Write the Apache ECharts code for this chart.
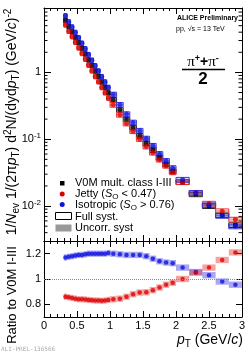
<!DOCTYPE html>
<html><head><meta charset="utf-8">
<script src="https://cdn.jsdelivr.net/npm/echarts@6.0.0/dist/echarts.min.js"></script>
<style>html,body{margin:0;padding:0;background:#fff;overflow:hidden}#c{width:249px;height:353px}</style>
</head><body><div id="c"></div>
<script>
// ---- data ----
const ptCenters = [0.325,0.375,0.425,0.475,0.525,0.575,0.625,0.675,0.725,0.775,0.825,0.875,0.925,0.975,
  1.05,1.15,1.25,1.35,1.45,1.55,1.65,1.75,1.85,1.95,2.1,2.3,2.5,2.7,2.9];
const binHalfWidths = [0.025,0.025,0.025,0.025,0.025,0.025,0.025,0.025,0.025,0.025,0.025,0.025,0.025,0.025,
  0.05,0.05,0.05,0.05,0.05,0.05,0.05,0.05,0.05,0.05,0.1,0.1,0.1,0.1,0.1];
const v0mYield = [6.0,4.85,4.05,3.35,2.78,2.3,1.89,1.54,1.27,1.05,0.875,0.72,0.6,0.495,
  0.39,0.275,0.2,0.15,0.113,0.087,0.069,0.053,0.042,0.033,0.0228,0.015,0.01,0.0073,0.0052];
const jettyYield = [5.16,4.147,3.443,2.831,2.335,1.932,1.584,1.286,1.058,0.8715,0.7263,0.5962,0.498,0.4133,
  0.3276,0.2324,0.172,0.132,0.1009,0.07787,0.06293,0.04945,0.04011,0.03201,0.0228,0.01575,0.0109,0.008395,0.006292];
const isoYield = [7.02,5.699,4.779,3.970,3.308,2.737,2.259,1.848,1.524,1.26,1.05,0.864,0.72,0.5965,
  0.468,0.3286,0.238,0.1785,0.1345,0.1027,0.08004,0.06042,0.04746,0.03713,0.02485,0.01583,0.0103,0.007154,0.004966];
const jettyRatio = [0.86,0.855,0.85,0.845,0.84,0.84,0.838,0.835,0.833,0.83,0.83,0.828,0.83,0.835,
  0.84,0.845,0.86,0.88,0.893,0.895,0.912,0.933,0.955,0.97,1.0,1.05,1.09,1.15,1.21];
const isoRatio = [1.17,1.175,1.18,1.185,1.19,1.19,1.195,1.2,1.2,1.2,1.2,1.2,1.2,1.205,
  1.2,1.195,1.19,1.19,1.19,1.18,1.16,1.14,1.13,1.125,1.09,1.055,1.03,0.98,0.955];
const fullSystRel = 0.08;     // open boxes, spectra
const uncorrSystRel = 0.04;   // filled boxes, spectra
const ratioUncorr = 0.025;    // filled boxes, ratios
const logMinorTicks = [0.004,0.005,0.006,0.007,0.008,0.009,0.02,0.03,0.04,0.05,0.06,0.07,0.08,0.09,
  0.2,0.3,0.4,0.5,0.6,0.7,0.8,0.9,2,3,4,5,6,7,8,9];

const FONT = 'Liberation Sans';
const C_BLACK = '#000000', C_RED = '#dd0000', C_BLUE = '#1010dd';

const chart = echarts.init(document.getElementById('c'), null, {renderer:'canvas'});

function relBox(xs, hws, ys, rel, style, xi, yi) {
  return {type:'custom', xAxisIndex:xi, yAxisIndex:yi, silent:true, clip:true,
    data: xs.map((x,i)=>[x, ys[i], hws[i]]),
    renderItem(params, api){
      const x=api.value(0), y=api.value(1), hw=api.value(2);
      const a=api.coord([x-hw, y*(1+rel)]), b=api.coord([x+hw, y*(1-rel)]);
      return {type:'rect', shape:{x:a[0], y:a[1], width:b[0]-a[0], height:b[1]-a[1]}, style};
    }};
}
function absBox(xs, hws, ys, d, style, xi, yi) {
  return {type:'custom', xAxisIndex:xi, yAxisIndex:yi, silent:true, clip:true,
    data: xs.map((x,i)=>[x, ys[i], hws[i]]),
    renderItem(params, api){
      const x=api.value(0), y=api.value(1), hw=api.value(2);
      const a=api.coord([x-hw, y+d]), b=api.coord([x+hw, y-d]);
      return {type:'rect', shape:{x:a[0], y:a[1], width:b[0]-a[0], height:b[1]-a[1]}, style};
    }};
}
function pts(xs, ys){ return xs.map((x,i)=>[x, ys[i]]); }

const tickStyle = {show:true, inside:true, length:6, lineStyle:{color:'#000', width:1}};
const minorStyle = {show:true, splitNumber:5, length:3, lineStyle:{color:'#000', width:1}};
const lineStyle = {show:true, onZero:false, lineStyle:{color:'#000', width:1}};

function xAx(grid, pos, labels){
  return {type:'value', gridIndex:grid, position:pos, min:0, max:3, interval:0.5,
    axisLine:lineStyle, axisTick:tickStyle, minorTick:minorStyle, splitLine:{show:false},
    axisLabel:{show:labels, color:'#000', fontSize:11, fontFamily:FONT, margin:3}};
}
function logFmt(v){
  const l = Math.log10(v), e = Math.round(l);
  if (Math.abs(l-e) > 1e-6) return '';
  if (e === 0) return '1';
  return '{b|10}{s|' + e + '}';
}
function yLog(pos, labels){
  return {type:'log', gridIndex:0, position:pos, min:0.003, max:9.2, logBase:10,
    axisLine:lineStyle, axisTick:Object.assign({}, tickStyle, {length:7}), splitLine:{show:false}, minorTick:{show:false},
    axisLabel:{show:labels, formatter:logFmt, color:'#000', fontSize:11, fontFamily:FONT, margin:3,
      showMinLabel:true, showMaxLabel:true,
      rich:{b:{fontSize:11, fontFamily:FONT, color:'#000', lineHeight:14},
            s:{fontSize:8, fontFamily:FONT, color:'#000', verticalAlign:'top', lineHeight:8}}}};
}
function yRatio(pos, labels){
  return {type:'value', gridIndex:1, position:pos, min:0.7, max:1.3, splitNumber:3,
    axisLine:lineStyle, axisTick:tickStyle, splitLine:{show:false}, minorTick:{show:false},
    axisLabel:{show:labels, color:'#000', fontSize:11, fontFamily:FONT, margin:3,
      formatter:v => (Math.abs(v-0.7)<1e-6 || Math.abs(v-1.3)<1e-6) ? '' : (Math.abs(v-1)<1e-6 ? '1' : v.toFixed(1))}};
}

const series = [
  // log-axis minor ticks (left & right)
  {type:'custom', xAxisIndex:0, yAxisIndex:0, silent:true, clip:false,
    data: logMinorTicks.map(v=>[0, v]),
    renderItem(params, api){
      const v = api.value(1);
      const a = api.coord([0, v]), b = api.coord([3, v]);
      return {type:'group', children:[
        {type:'line', shape:{x1:a[0], y1:a[1], x2:a[0]+3.5, y2:a[1]}, style:{stroke:'#000', lineWidth:1}},
        {type:'line', shape:{x1:b[0]-3.5, y1:b[1], x2:b[0], y2:b[1]}, style:{stroke:'#000', lineWidth:1}}]};
    }},
  // spectra: uncorrelated syst (filled)
  relBox(ptCenters, binHalfWidths, v0mYield, uncorrSystRel, {fill:'rgba(0,0,0,0.35)'}, 0, 0),
  relBox(ptCenters, binHalfWidths, jettyYield, uncorrSystRel, {fill:'rgba(230,50,50,0.45)'}, 0, 0),
  relBox(ptCenters, binHalfWidths, isoYield, uncorrSystRel, {fill:'rgba(60,60,230,0.45)'}, 0, 0),
  // spectra: full syst (open)
  relBox(ptCenters, binHalfWidths, v0mYield, fullSystRel, {fill:'none', stroke:'#222', lineWidth:1}, 0, 0),
  relBox(ptCenters, binHalfWidths, jettyYield, fullSystRel, {fill:'none', stroke:'#ee3030', lineWidth:1}, 0, 0),
  relBox(ptCenters, binHalfWidths, isoYield, fullSystRel, {fill:'none', stroke:'#3535e0', lineWidth:1}, 0, 0),
  // spectra markers
  {type:'scatter', xAxisIndex:0, yAxisIndex:0, symbol:'rect', symbolSize:4.5, silent:true,
    itemStyle:{color:C_BLACK}, data:pts(ptCenters, v0mYield)},
  {type:'scatter', xAxisIndex:0, yAxisIndex:0, symbol:'circle', symbolSize:5, silent:true,
    itemStyle:{color:C_RED}, data:pts(ptCenters, jettyYield)},
  {type:'scatter', xAxisIndex:0, yAxisIndex:0, symbol:'circle', symbolSize:5, silent:true,
    itemStyle:{color:C_BLUE}, data:pts(ptCenters, isoYield)},
  // ratio panel
  absBox(ptCenters, binHalfWidths, isoRatio, ratioUncorr, {fill:'rgba(60,60,230,0.45)'}, 2, 2),
  absBox(ptCenters, binHalfWidths, jettyRatio, ratioUncorr, {fill:'rgba(230,50,50,0.45)'}, 2, 2),
  {type:'scatter', xAxisIndex:2, yAxisIndex:2, symbol:'circle', symbolSize:4.5, silent:true,
    itemStyle:{color:C_BLUE}, data:pts(ptCenters, isoRatio),
    markLine:{silent:true, symbol:'none', label:{show:false},
      lineStyle:{type:'dotted', color:'#888', width:1}, data:[{yAxis:1}]}},
  {type:'scatter', xAxisIndex:2, yAxisIndex:2, symbol:'circle', symbolSize:4.5, silent:true,
    itemStyle:{color:C_RED}, data:pts(ptCenters, jettyRatio)}
];

const sub = (fs)=>({fontSize:fs, fontFamily:FONT, fill:'#000', verticalAlign:'bottom', lineHeight:fs});
const sup = (fs)=>({fontSize:fs, fontFamily:FONT, fill:'#000', verticalAlign:'top', lineHeight:fs});
const nrm = (fs, lh)=>({fontSize:fs, fontFamily:FONT, fill:'#000', lineHeight:lh});
const ita = (fs, lh)=>({fontSize:fs, fontFamily:FONT, fill:'#000', fontStyle:'italic', lineHeight:lh});

const graphic = [
  // y title (top)
  {type:'text', x:12, y:122, rotation:Math.PI/2, silent:true,
    style:{text:'{a|1/}{i|N}{sb|ev}{a| 1/(2π}{i|p}{sb|T}{a|) d}{sp|2}{a|N/(dyd}{i|p}{sb|T}{a|) (GeV/}{i|c}{a|)}{sp|-2}',
      align:'center', verticalAlign:'middle',
      rich:{a:nrm(14,18), i:ita(14,18), sb:sub(10), sp:sup(10)}}},
  // y title (ratio)
  {type:'text', x:12, y:295, rotation:Math.PI/2, silent:true,
    style:{text:'Ratio to V0M I-III', align:'center', verticalAlign:'middle', fontSize:13, fontFamily:FONT, fill:'#000'}},
  // x title
  {type:'text', x:243, y:340, silent:true,
    style:{text:'{i|p}{sb|T}{a| (GeV/}{i|c}{a|)}', align:'right', verticalAlign:'middle',
      rich:{a:nrm(14,18), i:ita(14,18), sb:sub(10)}}},
  // ALICE labels
  {type:'text', x:238, y:18.5, silent:true,
    style:{text:'ALICE Preliminary', align:'right', verticalAlign:'middle', fontSize:7, fontWeight:'bold', fontFamily:FONT, fill:'#000'}},
  {type:'text', x:176, y:29, silent:true,
    style:{text:'pp, √s = 13 TeV', align:'left', verticalAlign:'middle', fontSize:7, fontFamily:FONT, fill:'#000'}},
  // pion fraction
  {type:'text', x:203, y:62, silent:true,
    style:{text:'{p|π}{s|+}{o|+}{p|π}{s|-}', align:'center', verticalAlign:'middle',
      rich:{p:{fontSize:15, fontFamily:'Liberation Serif', fill:'#000', lineHeight:16},
            o:{fontSize:14, fontFamily:FONT, fontWeight:'bold', fill:'#000', lineHeight:16},
            s:{fontSize:9, fontFamily:FONT, fontWeight:'bold', fill:'#000', verticalAlign:'top', lineHeight:9}}}},
  {type:'line', silent:true, shape:{x1:182, y1:69.5, x2:225, y2:69.5}, style:{stroke:'#000', lineWidth:1.5}},
  {type:'text', x:203, y:79, silent:true,
    style:{text:'2', align:'center', verticalAlign:'middle', fontSize:17, fontWeight:'bold', fontFamily:FONT, fill:'#000'}},
  // legend
  {type:'rect', silent:true, shape:{x:60, y:181, width:4.5, height:4.5}, style:{fill:C_BLACK}},
  {type:'circle', silent:true, shape:{cx:62.2, cy:194, r:2.5}, style:{fill:C_RED}},
  {type:'circle', silent:true, shape:{cx:62.2, cy:204.5, r:2.5}, style:{fill:C_BLUE}},
  {type:'rect', silent:true, shape:{x:55.5, y:212.5, width:16, height:7}, style:{fill:'none', stroke:'#000', lineWidth:1}},
  {type:'rect', silent:true, shape:{x:55.5, y:224.5, width:16, height:7}, style:{fill:'#999'}},
  {type:'text', x:75, y:183, silent:true, style:{text:'V0M mult. class I-III', verticalAlign:'middle', fontSize:11, fontFamily:FONT, fill:'#000'}},
  {type:'text', x:75, y:194, silent:true, style:{text:'{a|Jetty (}{i|S}{sb|O}{a| < 0.47)}', verticalAlign:'middle',
      rich:{a:nrm(11,14), i:ita(11,14), sb:sub(8)}}},
  {type:'text', x:75, y:205, silent:true, style:{text:'{a|Isotropic (}{i|S}{sb|O}{a| > 0.76)}', verticalAlign:'middle',
      rich:{a:nrm(11,14), i:ita(11,14), sb:sub(8)}}},
  {type:'text', x:75, y:216.5, silent:true, style:{text:'Full syst.', verticalAlign:'middle', fontSize:11, fontFamily:FONT, fill:'#000'}},
  {type:'text', x:75, y:228, silent:true, style:{text:'Uncorr. syst', verticalAlign:'middle', fontSize:11, fontFamily:FONT, fill:'#000'}},
  // watermark
  {type:'text', x:1, y:349, silent:true, style:{text:'ALI-PREL-136566', verticalAlign:'middle', fontSize:6, fontFamily:'DejaVu Sans Mono', fill:'#aaa'}}
];

chart.setOption({
  animation:false,
  backgroundColor:'#fff',
  textStyle:{fontFamily:FONT},
  grid:[{left:44, right:7, top:8, height:233, outerBoundsMode:'none'},
        {left:44, right:7, top:241, height:76, outerBoundsMode:'none'}],
  xAxis:[xAx(0,'bottom',false), xAx(0,'top',false), xAx(1,'bottom',true), xAx(1,'top',false)],
  yAxis:[yLog('left',true), yLog('right',false), yRatio('left',true), yRatio('right',false)],
  series, graphic
});
</script></body></html>
